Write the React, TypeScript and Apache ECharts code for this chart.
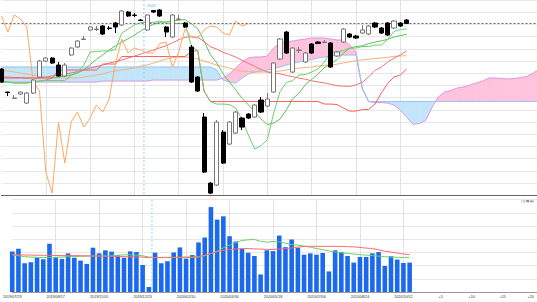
import React, { useEffect, useRef } from "react";
import * as echarts from "echarts";

// ---- tick labels ----
const dateTicks = ["2019/07/29", "2019/09/17", "2019/11/05", "2019/12/23", "2020/02/10", "2020/03/30", "2020/05/18", "2020/07/06", "2020/08/24", "2020/10/12"];
const tickStep = 7;
const futureTicks = ["+5", "+10", "+15", "+20"];
const futureStep = 5;
const futureWeeks = 25;
const chikouShift = 25;

// ---- weekly candles: [open, close, low, high] ----
const candles = [
  [1262, 1132, 1122, 1272], [1032, 1027, 992, 1034], [967, 972, 965, 1002], [1012, 1032, 1002, 1037],
  [922, 1022, 912, 1032], [1022, 1152, 1012, 1162], [1182, 1342, 1172, 1352], [1342, 1372, 1332, 1382],
  [1372, 1322, 1312, 1382], [1302, 1192, 1182, 1332], [1192, 1302, 1182, 1322], [1402, 1472, 1392, 1482],
  [1482, 1542, 1472, 1552], [1557, 1562, 1552, 1592], [1652, 1682, 1642, 1692], [1657, 1662, 1642, 1692],
  [1692, 1612, 1602, 1702], [1672, 1667, 1652, 1692], [1722, 1682, 1622, 1732], [1702, 1842, 1692, 1852],
  [1832, 1792, 1782, 1842], [1802, 1797, 1782, 1822], [1752, 1747, 1742, 1762], [1652, 1802, 1642, 1812],
  [1847, 1832, 1822, 1852], [1852, 1792, 1782, 1862], [1682, 1632, 1582, 1692], [1582, 1802, 1572, 1812],
  [1757, 1762, 1752, 1802], [1722, 1682, 1672, 1732], [1482, 1132, 1122, 1502], [1182, 1042, 1032, 1192],
  [782, 232, 222, 822], [122, 22, 12, 132], [102, 732, 92, 752], [632, 322, 312, 652],
  [512, 732, 502, 742], [622, 832, 612, 842], [772, 682, 652, 782], [812, 772, 762, 822],
  [782, 902, 772, 912], [952, 832, 822, 982], [892, 962, 882, 1022], [1032, 1322, 1022, 1332],
  [1362, 1562, 1352, 1572], [1632, 1422, 1412, 1642], [1232, 1472, 1222, 1482], [1447, 1452, 1422, 1482],
  [1332, 1422, 1322, 1432], [1512, 1422, 1412, 1522], [1532, 1517, 1512, 1542], [1527, 1532, 1522, 1552],
  [1522, 1282, 1272, 1532], [1392, 1432, 1382, 1442], [1532, 1662, 1522, 1672], [1612, 1582, 1572, 1622],
  [1592, 1572, 1562, 1602], [1622, 1652, 1612, 1702], [1612, 1692, 1602, 1702], [1722, 1682, 1672, 1732],
  [1672, 1622, 1612, 1682], [1722, 1602, 1592, 1732], [1672, 1742, 1662, 1752], [1722, 1692, 1682, 1732],
  [1752, 1717, 1712, 1762],
];

// ---- Ichimoku ----
const tenkan = [1132, 1132, 1122, 1122, 1122, 1132, 1142, 1147, 1147, 1147, 1147, 1197, 1232, 1302, 1432, 1437, 1442, 1442, 1457, 1622, 1662, 1702, 1727, 1727, 1727, 1742, 1722, 1717, 1717, 1717, 1492, 1447, 1042, 937, 912, 912, 907, 872, 757, 602, 462, 497, 557, 822, 1037, 1127, 1147, 1202, 1207, 1232, 1262, 1332, 1432, 1432, 1447, 1472, 1472, 1487, 1487, 1502, 1502, 1557, 1637, 1657, 1662];
const kijun = [1172, 1172, 1172, 1172, 1172, 1172, 1172, 1172, 1172, 1252, 1252, 1252, 1252, 1252, 1252, 1252, 1312, 1312, 1312, 1387, 1387, 1387, 1387, 1387, 1387, 1387, 1387, 1387, 1387, 1387, 1437, 1447, 1042, 937, 937, 937, 937, 937, 937, 937, 937, 937, 937, 937, 937, 937, 937, 937, 937, 937, 937, 912, 912, 907, 872, 842, 842, 857, 857, 912, 1022, 1117, 1182, 1202, 1262];
const spanA = [1132, 1132, 1132, 1132, 1132, 1132, 1132, 1132, 1132, 1132, 1132, 1132, 1132, 1132, 1132, 1132, 1142, 1142, 1142, 1142, 1142, 1142, 1142, 1142, 1152, 1152, 1152, 1152, 1152, 1152, 1152, 1152, 1152, 1152, 1152, 1172, 1212, 1272, 1332, 1372, 1382, 1382, 1392, 1472, 1522, 1532, 1542, 1552, 1562, 1572, 1572, 1572, 1562, 1552, 1552, 1502, 1432, 1062, 937, 927, 927, 922, 902, 852, 782, 712, 717, 747, 877, 982, 1032, 1047, 1072, 1082, 1102, 1122, 1142, 1172, 1172, 1167, 1162, 1167, 1177, 1187, 1222, 1262, 1337, 1407, 1432, 1462];
const spanB = [1282, 1282, 1282, 1282, 1282, 1282, 1282, 1282, 1282, 1282, 1282, 1282, 1282, 1282, 1282, 1282, 1282, 1282, 1282, 1282, 1282, 1282, 1282, 1282, 1282, 1282, 1282, 1282, 1282, 1282, 1282, 1282, 1282, 1282, 1252, 1152, 1132, 1122, 1172, 1212, 1232, 1242, 1252, 1262, 1282, 1302, 1322, 1332, 1347, 1357, 1372, 1382, 1392, 1402, 1402, 1402, 1402, 1072, 937, 937, 937, 937, 937, 937, 937, 937, 937, 937, 937, 937, 937, 937, 937, 937, 937, 937, 937, 937, 937, 937, 937, 937, 937, 937, 937, 937, 937, 937, 937, 937];

// ---- moving averages ----
const ma13 = [1132, 1132, 1122, 1122, 1122, 1132, 1142, 1152, 1172, 1182, 1192, 1202, 1222, 1255, 1305, 1358, 1403, 1452, 1493, 1532, 1564, 1600, 1643, 1682, 1709, 1729, 1734, 1743, 1751, 1756, 1715, 1666, 1542, 1406, 1324, 1214, 1132, 1055, 970, 904, 834, 763, 707, 722, 762, 854, 965, 1020, 1105, 1158, 1211, 1276, 1315, 1356, 1420, 1468, 1487, 1494, 1515, 1531, 1544, 1558, 1582, 1596, 1610];
const ma26 = [1182, 1182, 1177, 1177, 1172, 1172, 1172, 1182, 1192, 1202, 1212, 1222, 1237, 1252, 1272, 1287, 1302, 1322, 1337, 1352, 1372, 1392, 1412, 1432, 1452, 1475, 1494, 1524, 1555, 1580, 1584, 1580, 1537, 1485, 1462, 1429, 1407, 1382, 1349, 1319, 1289, 1257, 1232, 1219, 1214, 1198, 1185, 1172, 1160, 1145, 1133, 1123, 1110, 1095, 1091, 1088, 1104, 1128, 1184, 1248, 1282, 1331, 1370, 1403, 1443];
const ma52 = [1252, 1242, 1232, 1222, 1212, 1202, 1192, 1182, 1177, 1172, 1172, 1172, 1172, 1182, 1192, 1202, 1212, 1232, 1242, 1252, 1262, 1272, 1292, 1302, 1322, 1342, 1362, 1377, 1382, 1382, 1372, 1362, 1342, 1322, 1302, 1287, 1272, 1252, 1242, 1237, 1232, 1232, 1232, 1237, 1242, 1252, 1262, 1272, 1277, 1282, 1292, 1299, 1302, 1310, 1323, 1334, 1344, 1354, 1360, 1366, 1372, 1380, 1389, 1393, 1396];

// ---- volume ----
const volume = [3.08, 3.28, 2.18, 2.26, 2.6, 2.48, 3.66, 2.63, 2.5, 2.93, 2.6, 2.38, 2.13, 3.36, 2.93, 3.16, 3.06, 2.78, 2.6, 3.08, 3.03, 2.05, 0.38, 2.98, 2.18, 2.33, 3.0, 3.38, 2.53, 2.8, 3.76, 4.13, 6.44, 5.49, 5.74, 4.23, 3.83, 3.26, 2.98, 2.73, 1.33, 3.16, 3.1, 4.28, 3.4, 3.98, 3.36, 2.83, 2.93, 2.83, 2.96, 1.56, 3.16, 3.03, 2.73, 2.23, 2.66, 2.66, 2.93, 3.03, 1.98, 2.71, 2.46, 2.2, 2.23];
const volMaShort = [2.83, 2.75, 2.68, 2.65, 2.63, 2.61, 2.62, 2.63, 2.65, 2.67, 2.69, 2.71, 2.72, 2.73, 2.73, 2.73, 2.75, 2.78, 2.82, 2.83, 2.79, 2.75, 2.65, 2.61, 2.61, 2.61, 2.61, 2.61, 2.61, 2.62, 2.65, 2.75, 2.91, 3.1, 3.35, 3.55, 3.75, 3.91, 3.96, 3.98, 3.85, 3.78, 3.83, 3.8, 3.7, 3.6, 3.55, 3.48, 3.4, 3.3, 3.21, 3.12, 3.03, 2.98, 2.93, 2.88, 2.83, 2.8, 2.76, 2.72, 2.68, 2.65, 2.63, 2.62, 2.63];
const volMaLong = [2.83, 2.82, 2.81, 2.8, 2.79, 2.78, 2.78, 2.77, 2.76, 2.76, 2.76, 2.75, 2.74, 2.73, 2.72, 2.71, 2.7, 2.69, 2.68, 2.67, 2.66, 2.65, 2.61, 2.61, 2.62, 2.63, 2.64, 2.65, 2.65, 2.66, 2.7, 2.78, 2.91, 3.05, 3.16, 3.22, 3.26, 3.29, 3.29, 3.27, 3.25, 3.23, 3.23, 3.26, 3.3, 3.34, 3.4, 3.46, 3.47, 3.46, 3.46, 3.46, 3.46, 3.46, 3.44, 3.42, 3.38, 3.33, 3.3, 3.2, 3.1, 3.03, 2.95, 2.88, 2.83];

// ---- derived structure ----
const dataLen = candles.length;
const N = dataLen + futureWeeks;
const pad = (n: number) => (n < 10 ? "0" + n : "" + n);
const categories: string[] = Array.from({ length: N }, (_, i) => {
  if (i >= dataLen) return "+" + (i - dataLen + 1);
  const d = new Date(2019, 6, 29 + 7 * i);
  return d.getFullYear() + "/" + pad(d.getMonth() + 1) + "/" + pad(d.getDate());
});
const labelIdx = new Set<number>();
dateTicks.forEach((t, k) => { categories[k * tickStep] = t; labelIdx.add(k * tickStep); });
let lastFutureIdx = -1;
futureTicks.forEach((t, k) => { const idx = dataLen - 1 + (k + 1) * futureStep; categories[idx] = t; labelIdx.add(idx); lastFutureIdx = idx; });
const gridIdx = new Set<number>();
dateTicks.forEach((_, k) => { if (k > 0) gridIdx.add(k * tickStep); });
const yearIdx = categories.findIndex((c, i) => i > 0 && c.startsWith("2020") && categories[i - 1].startsWith("2019"));
const closes = candles.map((c) => c[1]);
const chikou = Array.from({ length: N }, (_, i) => (i + chikouShift < dataLen ? closes[i + chikouShift] : null));
const lastClose = closes[dataLen - 1];
const padN = (a: number[]) => a.concat(Array(N - a.length).fill(null));

const PINK = "#ffc3dd";
const BLUE = "#c3e5fa";
const STEP = 6.33;
const LEFT = 1.5;
const GRID_W = STEP * (N - 1);
const CANVAS_W = Math.ceil(LEFT + GRID_W + 8);

export default function App() {
  const ref = useRef<HTMLDivElement>(null);
  useEffect(() => {
    if (!ref.current) return;
    document.documentElement.style.overflow = "hidden";
    document.body.style.overflow = "hidden";
    const chart = echarts.init(ref.current, undefined, { renderer: "svg" });
    const lineS = (name: string, data: any[], color: string, z = 3, xi = 0) => ({
      name, type: "line", data, xAxisIndex: xi, yAxisIndex: xi, showSymbol: false, symbol: "none",
      lineStyle: { color, width: 1 }, z, silent: true,
    });
    const axisData = categories.map((c, i) => (i === lastFutureIdx ? { value: c, textStyle: { align: "right" } } : c));
    const xAx = (gi: number, showLabel: boolean, lineColor: string) => ({
      type: "category", gridIndex: gi, data: axisData, boundaryGap: false,
      axisLine: { show: true, lineStyle: { color: lineColor, width: 1 } },
      axisTick: { show: false },
      axisLabel: {
        show: showLabel, interval: (i: number) => labelIdx.has(i), fontSize: 3.7, color: "#333", margin: 2.5,
        fontFamily: "Liberation Sans, Arial, sans-serif",
      },
      splitLine: { show: true, interval: (i: number) => gridIdx.has(i), lineStyle: { color: "#e3e3e3", width: 1 } },
    });
    const option: any = {
      animation: false,
      grid: [
        { left: LEFT, top: 0, width: GRID_W, height: 195.3 },
        { left: LEFT, top: 199.7, width: GRID_W, height: 92.3 },
      ],
      xAxis: [xAx(0, false, "#666"), xAx(1, true, "#999")],
      yAxis: [
        { type: "value", gridIndex: 0, min: 0, max: 1952, interval: 122, axisLabel: { show: false }, axisLine: { show: false }, axisTick: { show: false }, splitLine: { lineStyle: { color: "#e8e8e8" } } },
        { type: "value", gridIndex: 1, min: 0, max: 7, interval: 1, axisLabel: { show: false }, axisLine: { show: false }, axisTick: { show: false }, splitLine: { lineStyle: { color: "#e8e8e8" } } },
      ],
      graphic: [
        { type: "text", left: 521, top: 199, style: { text: "(売買高)", fontSize: 3.6, fill: "#333", fontFamily: "Noto Sans CJK JP" } },
      ],
      series: [
        {
          type: "custom", name: "cloud", xAxisIndex: 0, yAxisIndex: 0, z: 1, silent: true,
          data: Array.from({ length: N - 1 }, (_, i) => [i]),
          renderItem: (params: any, api: any) => {
            const i = api.value(0);
            const a0 = spanA[i], a1 = spanA[i + 1], b0 = spanB[i], b1 = spanB[i + 1];
            const A0 = api.coord([i, a0]), A1 = api.coord([i + 1, a1]);
            const B0 = api.coord([i, b0]), B1 = api.coord([i + 1, b1]);
            const d0 = a0 - b0, d1 = a1 - b1;
            const col = (d: number) => (d >= 0 ? PINK : BLUE);
            const st = (c: string) => ({ fill: c, stroke: c, lineWidth: 0.6 });
            if (d0 * d1 >= 0) {
              return { type: "polygon", shape: { points: [A0, A1, B1, B0] }, style: st(col(d0 + d1)) };
            }
            const t = d0 / (d0 - d1);
            const C = [A0[0] + t * (A1[0] - A0[0]), A0[1] + t * (A1[1] - A0[1])];
            return {
              type: "group", children: [
                { type: "polygon", shape: { points: [A0, C, B0] }, style: st(col(d0)) },
                { type: "polygon", shape: { points: [C, A1, B1] }, style: st(col(d1)) },
              ],
            };
          },
        },
        lineS("先行スパン1", spanA, "#dd9be0", 2),
        lineS("先行スパン2", spanB, "#95c6f2", 2),
        lineS("52週移動平均", padN(ma52), "#f2b27a", 3),
        lineS("26週移動平均", padN(ma26), "#f27272", 3),
        lineS("13週移動平均", padN(ma13), "#5cc15c", 3),
        lineS("基準線", padN(kijun), "#ff5b5b", 3),
        lineS("転換線", padN(tenkan), "#6ccf6c", 3),
        lineS("遅行スパン", chikou, "#ffa75e", 3),
        {
          type: "candlestick", name: "株価", xAxisIndex: 0, yAxisIndex: 0, z: 5, clip: false, barWidth: 4.6,
          data: candles,
          itemStyle: { color: "#ffffff", color0: "#000000", borderColor: "#777777", borderColor0: "#000000", borderWidth: 1 },
          markLine: {
            silent: true, symbol: ["none", "none"], label: { show: false },
            lineStyle: { type: [2, 2], color: "#666", width: 1 },
            data: [{ yAxis: lastClose }],
          },
        },
        {
          type: "bar", name: "売買高", xAxisIndex: 1, yAxisIndex: 1, data: volume, barWidth: 4.6,
          itemStyle: { color: "#1b69ee" }, z: 2, silent: true,
        },
        lineS("売買高13週", padN(volMaShort), "#6ccf6c", 3, 1),
        lineS("売買高26週", padN(volMaLong), "#ff6b6b", 3, 1),
        ...[0, 1].map((gi) => ({
          type: "custom", xAxisIndex: gi, yAxisIndex: gi, z: 4, silent: true,
          data: [[yearIdx]],
          renderItem: (params: any, api: any) => {
            const idx = api.value(0);
            const xa = api.coord([idx - 1, 0])[0];
            const xb = api.coord([idx, 0])[0];
            const xm = (xa + xb) / 2;
            const cs = params.coordSys;
            const children: any[] = [
              { type: "line", shape: { x1: xm, y1: cs.y, x2: xm, y2: cs.y + cs.height }, style: { stroke: "#8fd0f5", lineWidth: 1, lineDash: [2, 2] } },
            ];
            if (gi === 0) {
              children.push({ type: "text", x: xm + 3, y: cs.y + 3, style: { text: categories[idx].slice(0, 4), fontSize: 4, fill: "#5ab4ec", fontFamily: "Liberation Sans, Arial, sans-serif" } });
            }
            return { type: "group", children };
          },
        })),
      ],
    };
    chart.setOption(option);
    return () => chart.dispose();
  }, []);
  return <div ref={ref} style={{ position: "fixed", left: 0, top: 0, width: CANVAS_W, height: 302, background: "#fff" }} />;
}
